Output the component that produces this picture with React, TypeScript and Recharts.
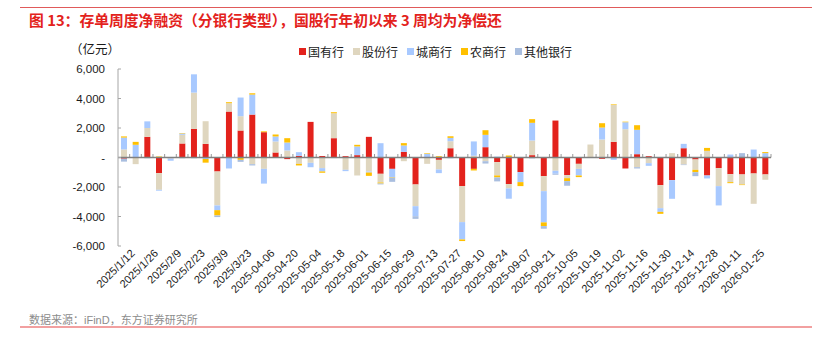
import { BarChart, Bar, XAxis, YAxis, ReferenceLine } from 'recharts'

// weekly dates (2025/1/5 .. 2026/1/25)
const categories = [
  '2025/1/5', '2025/1/12', '2025/1/19', '2025/1/26', '2025/2/2', '2025/2/9', '2025/2/16', '2025/2/23',
  '2025/3/2', '2025/3/9', '2025/3/16', '2025/3/23', '2025/3/30', '2025-04-06', '2025-04-13', '2025-04-20',
  '2025-04-27', '2025-05-04', '2025-05-11', '2025-05-18', '2025-05-25', '2025-06-01', '2025-06-08', '2025-06-15',
  '2025-06-22', '2025-06-29', '2025-07-06', '2025-07-13', '2025-07-20', '2025-07-27', '2025-08-03', '2025-08-10',
  '2025-08-17', '2025-08-24', '2025-08-31', '2025-09-07', '2025-09-14', '2025-09-21', '2025-09-28', '2025-10-05',
  '2025-10-12', '2025-10-19', '2025-10-26', '2025-11-02', '2025-11-09', '2025-11-16', '2025-11-23', '2025-11-30',
  '2025-12-07', '2025-12-14', '2025-12-21', '2025-12-28', '2026-01-04', '2026-01-11', '2026-01-18', '2026-01-25',
]

// labels shown on the x axis (every other week)
const tickLabels = [
  '2025/1/12', '2025/1/26', '2025/2/9', '2025/2/23', '2025/3/9', '2025/3/23', '2025-04-06', '2025-04-20',
  '2025-05-04', '2025-05-18', '2025-06-01', '2025-06-15', '2025-06-29', '2025-07-13', '2025-07-27', '2025-08-10',
  '2025-08-24', '2025-09-07', '2025-09-21', '2025-10-05', '2025-10-19', '2025-11-02', '2025-11-16', '2025-11-30',
  '2025-12-14', '2025-12-28', '2026-01-11', '2026-01-25',
]

// 亿元
const guoyou = [
  -80, 0, 1400, -1060, -40, 950, 1940, 925, -950, 3115, 1830, 2910, 1715, 340, -110, 110,
  2415, 100, 1310, 90, 160, 1400, -1105, -770, 385, -1830, 0, -160, 630, -1940, -770, 700,
  -315, -1800, -990, 160, -1265, 2505, -1200, -430, 0, -90, 1060, -745, 225, 90, -1875, -1535,
  630, -135, -1220, -720, -1130, -1150, -1085, -1150,
]
const gufen = [
  550, -450, 600, -1130, -30, 590, 2460, 1535, -2300, 565, 970, -450, -770, 745, 475, -430,
  -360, -720, 1690, -835, -1220, -950, -590, 0, -250, -1470, -430, -650, 475, -2440, 120, -250,
  -900, -295, 0, 990, -1015, -900, -200, -340, 880, 1220, 2505, 1920, -655, -385, -1560, 295,
  -475, -700, 450, -1220, -540, -680, -2055, -360,
]
const chengshang = [
  800, 860, 450, -60, -150, 90, 1240, -100, -320, -745, 1265, 1355, -1000, 340, 540, 250,
  -300, -225, 0, -90, 590, -70, 970, -550, 430, -680, 250, -250, 225, -1175, 970, 835,
  60, -700, -680, 1200, -2120, -200, 0, -450, 0, 810, -160, 470, 1650, -180, -250, -1265,
  295, 0, -200, -1310, 200, 0, 540, 295,
]
const nongshang = [
  80, 200, 0, 70, 0, 30, 0, -250, -360, 70, -160, 90, 60, 135, 295, -110,
  0, -90, 70, 0, 110, -225, -70, -40, 160, 0, 40, 90, 110, -110, -110, 315,
  -135, 135, -270, 250, -250, 0, -200, -110, 0, 295, 40, 40, 315, 0, -135, 0,
  0, -160, 200, 0, -70, -40, 0, 70,
]
const qita = [
  -200, 0, -50, 0, 0, -50, -50, 0, -110, 0, -135, -90, 0, 0, 0, 0,
  0, 0, -40, 0, 0, 0, -60, -290, 0, -180, 0, 0, -50, 0, 0, -160,
  -270, 0, 0, -60, -180, -70, -315, 0, 0, 0, 0, 0, -90, 0, 0, 0,
  -40, -270, 0, 0, 0, 295, 0, 0,
]

const seriesNames = ['国有行', '股份行', '城商行', '农商行', '其他银行']
const seriesColors = ['#E3221C', '#DFD6BF', '#A8C9FF', '#FFC000', '#A9BEDF']
const seriesValues = [guoyou, gufen, chengshang, nongshang, qita]

const yTicks = [-6000, -4000, -2000, 0, 2000, 4000, 6000]

const data = categories.map((date, i) => {
  const row: Record<string, any> = { date }
  seriesNames.forEach((name, k) => {
    row[name] = seriesValues[k][i]
  })
  return row
})

const FONT = '"Liberation Sans", "Noto Sans CJK SC", Arial, sans-serif'
const CJK = '"Noto Sans CJK SC", "Liberation Sans", sans-serif'

function YTick({ x, y, payload }: any) {
  const v = payload.value
  return (
    <g>
      <line x1={x + 13} x2={x + 16} y1={y} y2={y} stroke="#A6A6A6" />
      <text x={x} y={y} dy={4} textAnchor="end" fontSize={11.5} fill="#1a1a1a" fontFamily={FONT}>
        {v === 0 ? '-' : v.toLocaleString('en-US')}
      </text>
    </g>
  )
}

function XTick({ x, y, payload }: any) {
  if (!tickLabels.includes(payload.value)) return <g />
  return (
    <text
      x={x}
      y={y}
      transform={`rotate(-45 ${x} ${y})`}
      textAnchor="end"
      fontSize={11}
      fill="#1a1a1a"
      fontFamily={FONT}
    >
      {payload.value}
    </text>
  )
}

// zero line with small marks between categories
function ZeroAxis(props: any) {
  const { x1, x2, y1 } = props
  const n = categories.length
  const step = (x2 - x1) / n
  const marks = []
  for (let k = 1; k <= n; k++) {
    const mx = x1 + step * k
    marks.push(<line key={k} x1={mx} x2={mx} y1={y1} y2={y1 - 3.5} stroke="#999" strokeWidth={1} />)
  }
  return (
    <g>
      {marks}
      <line x1={x1} x2={x2} y1={y1} y2={y1} stroke="#808080" strokeWidth={1.5} />
    </g>
  )
}

function LegendBox() {
  return (
    <div style={{ position: 'absolute', left: 299, top: 43, display: 'flex', fontSize: 12, color: '#1a1a1a', whiteSpace: 'nowrap' }}>
      {seriesNames.map((name, k) => (
        <div key={name} style={{ display: 'flex', alignItems: 'center', marginRight: 9 }}>
          <span style={{ width: 7, height: 7, background: seriesColors[k], marginRight: 2, display: 'inline-block' }} />
          {name}
        </div>
      ))}
    </div>
  )
}

export default function App() {
  return (
    <div style={{ position: 'absolute', left: 0, top: 0, width: 832, height: 344, background: '#fff', fontFamily: FONT }}>
      <div style={{ position: 'absolute', left: 20, top: 7, width: 792, height: 1, background: '#E05A5A' }} />
      <div style={{ position: 'absolute', left: 29, top: 9, fontFamily: CJK, fontSize: 14.8, fontWeight: 'bold', color: '#E3221C', whiteSpace: 'nowrap' }}>
        图 13：存单周度净融资（分银行类型），国股行年初以来 3 周均为净偿还
      </div>
      <div style={{ position: 'absolute', left: 70, top: 39, fontFamily: CJK, fontSize: 12.5, color: '#1a1a1a' }}>（亿元）</div>
      <LegendBox />
      <div style={{ position: 'absolute', left: 0, top: 0 }}>
        <BarChart
          width={832}
          height={344}
          data={data}
          stackOffset="sign"
          barSize={6}
          margin={{ top: 69, right: 61, bottom: 38, left: 0 }}
        >
          <XAxis
            dataKey="date"
            interval={0}
            axisLine={false}
            tickLine={false}
            tickSize={0}
            tickMargin={8}
            height={60}
            tick={<XTick />}
          />
          <YAxis
            domain={[-6000, 6000]}
            ticks={yTicks}
            width={118}
            axisLine={{ stroke: '#A6A6A6' }}
            tickLine={false}
            tickSize={0}
            tickMargin={13}
            tick={<YTick />}
          />
          {seriesNames.map((name, k) => (
            <Bar key={name} dataKey={name} stackId="a" fill={seriesColors[k]} isAnimationActive={false} />
          ))}
          <ReferenceLine y={0} shape={<ZeroAxis />} />
        </BarChart>
      </div>
      <div style={{ position: 'absolute', left: 29, top: 311, fontSize: 11, color: '#8c8c8c' }}>
        数据来源：iFinD，东方证券研究所
      </div>
      <div style={{ position: 'absolute', left: 20, top: 326, width: 792, height: 1.5, background: '#F2A0A0' }} />
    </div>
  )
}
